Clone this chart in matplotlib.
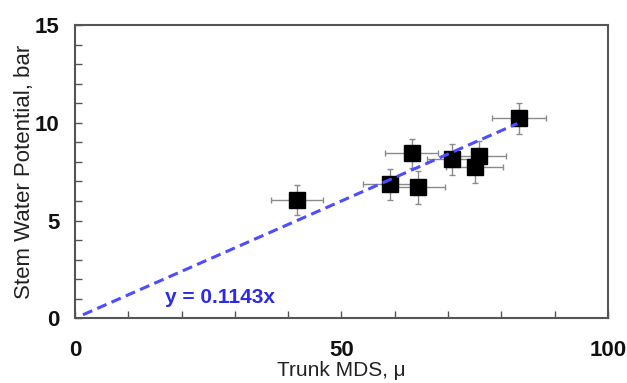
import matplotlib
matplotlib.use("Agg")
import matplotlib.pyplot as plt
from matplotlib.ticker import MultipleLocator

plt.rcParams["font.family"] = ["Liberation Sans", "DejaVu Sans"]

# Datos
mds = [41.6, 59.2, 64.4, 63.2, 70.8, 75.8, 75.0, 83.3]
swp = [6.05, 6.85, 6.70, 8.44, 8.13, 8.30, 7.75, 10.23]
mds_err = [4.9, 5.1, 5.1, 5.0, 4.8, 5.1, 5.3, 5.0]
swp_err = [0.77, 0.80, 0.85, 0.75, 0.80, 0.78, 0.82, 0.78]

# Recta de ajuste (tal como se dibuja)
fit_x = [1.5, 83.0]
fit_slope = 0.12
fit_label = "y = 0.1143x"

fig = plt.figure(figsize=(6.27, 3.83), dpi=100)
ax = fig.add_axes([0.1196, 0.169, 0.85, 0.7657])

ax.errorbar(
    mds, swp, xerr=mds_err, yerr=swp_err,
    fmt="none", ecolor="#8a8a8a", elinewidth=1.0,
    capsize=2, capthick=1.0, zorder=2,
)
ax.plot(mds, swp, "s", color="black", markersize=12, zorder=3)

ax.plot(
    fit_x, [fit_slope * x for x in fit_x],
    color="#4d4dff", linestyle=(0, (3.3, 1.8)), linewidth=2.2, zorder=4,
)
ax.text(27.2, 1.07, fit_label, color="#2a2ae8", fontsize=15,
        fontweight="bold", ha="center", va="center")

ax.set_xlim(0, 100)
ax.set_ylim(0, 15)
ax.xaxis.set_major_locator(MultipleLocator(50))
ax.xaxis.set_minor_locator(MultipleLocator(10))
ax.yaxis.set_major_locator(MultipleLocator(5))
ax.yaxis.set_minor_locator(MultipleLocator(1))

ax.tick_params(which="both", direction="in", color="#555555", width=1)
ax.tick_params(which="major", length=5)
ax.tick_params(which="minor", length=5)
ax.tick_params(axis="x", which="major", pad=16)
ax.tick_params(axis="y", which="major", pad=11)
for lab in ax.get_xticklabels() + ax.get_yticklabels():
    lab.set_fontsize(16)
    lab.set_fontweight("bold")
    lab.set_color("#111111")

for side in ax.spines.values():
    side.set_color("#555555")
    side.set_linewidth(1.5)

ax.set_xlabel("Trunk MDS, μ", fontsize=15, color="#222222", labelpad=0)
ax.set_ylabel("Stem Water Potential, bar", fontsize=16, color="#222222",
              labelpad=0)

fig.savefig("out.png", dpi=100)
